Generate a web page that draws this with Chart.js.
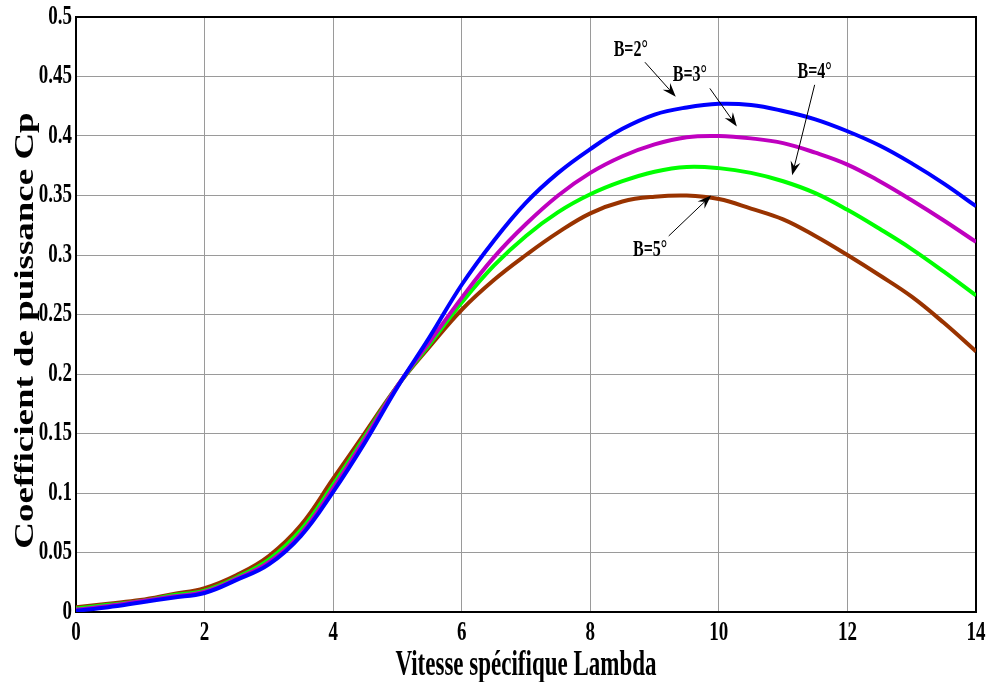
<!DOCTYPE html>
<html>
<head>
<meta charset="utf-8">
<script src="https://cdn.jsdelivr.net/npm/chart.js@4.4.1/dist/chart.umd.min.js"></script>
<style>
  html, body { margin: 0; padding: 0; background: #fff; }
  canvas { display: block; }
</style>
</head>
<body>
<canvas id="cpChart" width="989" height="682"></canvas>
<script>
// Lambda values
const lambda = [0, 0.5, 1, 1.5, 2, 2.5, 3, 3.5, 4, 4.5, 5, 5.5, 6, 6.5, 7,
  7.5, 8, 8.5, 9, 9.5, 10, 10.5, 11, 11.5, 12, 12.5, 13, 13.5, 14];

// Cp for each pitch angle
const cpB2 = [0.001, 0.004, 0.008, 0.012, 0.016, 0.027, 0.040, 0.064, 0.101, 0.143, 0.189, 0.231, 0.275, 0.312, 0.344,
  0.369, 0.389, 0.406, 0.418, 0.424, 0.427, 0.426, 0.421, 0.414, 0.404, 0.392, 0.377, 0.360, 0.341];
const cpB3 = [0.002, 0.005, 0.009, 0.013, 0.017, 0.028, 0.042, 0.066, 0.104, 0.146, 0.190, 0.227, 0.264, 0.298, 0.326,
  0.350, 0.369, 0.383, 0.393, 0.399, 0.400, 0.398, 0.394, 0.386, 0.376, 0.362, 0.346, 0.329, 0.311];
const cpB4 = [0.003, 0.006, 0.009, 0.014, 0.018, 0.029, 0.044, 0.069, 0.107, 0.148, 0.190, 0.225, 0.260, 0.291, 0.316,
  0.336, 0.351, 0.362, 0.370, 0.374, 0.373, 0.369, 0.362, 0.352, 0.338, 0.322, 0.305, 0.286, 0.266];
const cpB5 = [0.004, 0.007, 0.010, 0.015, 0.020, 0.031, 0.047, 0.073, 0.112, 0.151, 0.190, 0.223, 0.254, 0.279, 0.300,
  0.319, 0.335, 0.345, 0.349, 0.350, 0.347, 0.339, 0.330, 0.316, 0.300, 0.283, 0.265, 0.243, 0.219];

const xTickLabels = ['0', '2', '4', '6', '8', '10', '12', '14'];
const yTickLabels = ['0', '0.05', '0.1', '0.15', '0.2', '0.25', '0.3', '0.35', '0.4', '0.45', '0.5'];

const xTitle = 'Vitesse spécifique Lambda';
const yTitle = 'Coefficient de puissance Cp';

// labels: text, text position, arrow start, arrow tip (data units)
const notes = [
  { text: 'B=2°', tx: 8.63, ty: 0.472, ax: 8.85, ay: 0.462, bx: 9.33, by: 0.433 },
  { text: 'B=3°', tx: 9.55, ty: 0.451, ax: 9.86, ay: 0.440, bx: 10.28, by: 0.408 },
  { text: 'B=4°', tx: 11.49, ty: 0.454, ax: 11.49, ay: 0.443, bx: 11.14, by: 0.367 },
  { text: 'B=5°', tx: 8.93, ty: 0.304, ax: 9.22, ay: 0.316, bx: 9.88, by: 0.350 }
];

const toXY = (xs, ys) => xs.map((x, i) => ({ x: x, y: ys[i] }));

const FONT = '"Liberation Serif", "Times New Roman", serif';

function stretchText(ctx, str, x, y, size, sy, align, base) {
  ctx.save();
  ctx.translate(x, y);
  ctx.scale(1, sy);
  ctx.font = 'bold ' + size + 'px ' + FONT;
  ctx.textAlign = align;
  ctx.textBaseline = base;
  ctx.fillStyle = '#000';
  ctx.fillText(str, 0, 0);
  ctx.restore();
}

function arrow(ctx, x1, y1, x2, y2) {
  const ang = Math.atan2(y2 - y1, x2 - x1);
  const len = 14, half = 5;
  ctx.save();
  ctx.strokeStyle = '#000';
  ctx.fillStyle = '#000';
  ctx.lineWidth = 1;
  ctx.beginPath();
  ctx.moveTo(x1, y1);
  ctx.lineTo(x2 - Math.cos(ang) * len * 0.6, y2 - Math.sin(ang) * len * 0.6);
  ctx.stroke();
  ctx.translate(x2, y2);
  ctx.rotate(ang);
  ctx.beginPath();
  ctx.moveTo(0, 0);
  ctx.lineTo(-len, -half);
  ctx.lineTo(-len * 0.65, 0);
  ctx.lineTo(-len, half);
  ctx.closePath();
  ctx.fill();
  ctx.restore();
}

const frame = {
  id: 'frame',
  beforeDatasetsDraw(chart) {
    const { ctx, chartArea: a } = chart;
    ctx.save();
    ctx.strokeStyle = '#000';
    ctx.lineWidth = 2;
    ctx.strokeRect(a.left, a.top, a.right - a.left, a.bottom - a.top);
    ctx.restore();
  },
  afterDraw(chart) {
    const { ctx, chartArea: a } = chart;
    const xs = chart.scales.x, ys = chart.scales.y;
    xTickLabels.forEach(t => {
      stretchText(ctx, t, xs.getPixelForValue(parseFloat(t)), a.bottom + 28, 19, 1.4, 'center', 'alphabetic');
    });
    yTickLabels.forEach(t => {
      stretchText(ctx, t, a.left - 4, ys.getPixelForValue(parseFloat(t)), 19, 1.4, 'right', 'middle');
    });
    stretchText(ctx, xTitle, (a.left + a.right) / 2, a.bottom + 63, 23, 1.55, 'center', 'alphabetic');

    ctx.save();
    ctx.translate(33, (a.top + a.bottom) / 2 + 16);
    ctx.rotate(-Math.PI / 2);
    ctx.scale(1.32, 1);
    ctx.font = 'bold 28px ' + FONT;
    ctx.textAlign = 'center';
    ctx.textBaseline = 'alphabetic';
    ctx.fillStyle = '#000';
    ctx.fillText(yTitle, 0, 0);
    ctx.restore();

    notes.forEach(n => {
      stretchText(ctx, n.text, xs.getPixelForValue(n.tx), ys.getPixelForValue(n.ty), 16, 1.4, 'center', 'middle');
      arrow(ctx, xs.getPixelForValue(n.ax), ys.getPixelForValue(n.ay),
        xs.getPixelForValue(n.bx), ys.getPixelForValue(n.by));
    });
  }
};

const line = (data, color) => ({
  data: toXY(lambda, data),
  borderColor: color,
  borderWidth: 4,
  pointRadius: 0,
  fill: false,
  tension: 0.4
});

new Chart(document.getElementById('cpChart'), {
  type: 'line',
  data: {
    datasets: [
      line(cpB2, '#0000ff'),
      line(cpB3, '#bf00bf'),
      line(cpB4, '#00ff00'),
      line(cpB5, '#993300')
    ]
  },
  options: {
    responsive: false,
    animation: false,
    layout: { padding: { top: 17, right: 13, left: 0, bottom: 0 } },
    plugins: { legend: { display: false }, tooltip: { enabled: false } },
    scales: {
      x: {
        type: 'linear', min: 0, max: 14,
        ticks: { stepSize: 2, display: false },
        grid: { color: '#9a9a9a', lineWidth: 1, drawTicks: false },
        border: { display: false },
        afterFit(s) { s.height = 70; }
      },
      y: {
        type: 'linear', min: 0, max: 0.5,
        ticks: { stepSize: 0.05, display: false },
        grid: { color: '#9a9a9a', lineWidth: 1, drawTicks: false },
        border: { display: false },
        afterFit(s) { s.width = 76; }
      }
    }
  },
  plugins: [frame]
});
</script>
</body>
</html>
